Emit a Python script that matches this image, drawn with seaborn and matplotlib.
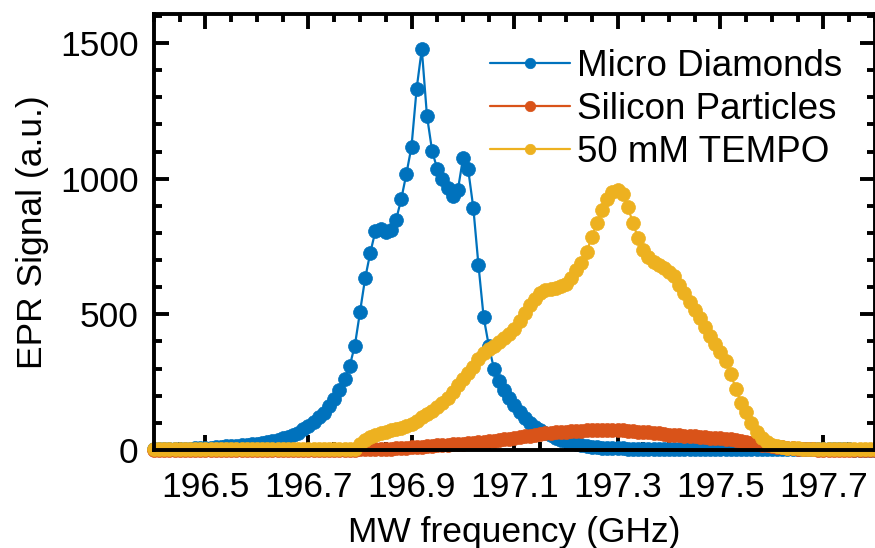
import numpy as np
import pandas as pd
import matplotlib
matplotlib.use('Agg')
import matplotlib.pyplot as plt
import seaborn as sns
from matplotlib.ticker import MultipleLocator

# MW frequency grid (GHz), 0.01 GHz steps from 196.40 to 197.80
freq = np.round(np.arange(196.40, 197.805, 0.01), 2)

micro_diamonds = [
    2, 2, 3, 3, 4, 4, 5, 5, 6, 7,
    8, 9, 10, 11, 13, 14, 16, 18, 20, 22,
    24, 27, 30, 34, 38, 43, 49, 55, 64, 76,
    89, 102, 120, 138, 162, 188, 220, 262, 310, 385,
    508, 633, 727, 808, 815, 805, 811, 848, 924, 1017,
    1118, 1332, 1478, 1232, 1103, 1035, 998, 965, 937, 958,
    1075, 1035, 893, 682, 491, 385, 300, 255, 222, 192,
    165, 140, 118, 100, 85, 73, 63, 54, 46, 38,
    32, 27, 22, 18, 15, 12, 10, 9, 8, 7,
    6, 6, 5, 5, 5, 4, 4, 4, 4, 4,
    3, 3, 3, 3, 3, 3, 3, 3, 3, 3,
    3, 3, 2, 2, 2, 2, 2, 2, 2, 2,
    2, 2, 2, 2, 2, 2, 2, 2, 2, 2,
    2, 2, 2, 2, 2, 2, 1, 1, 1, 1, 1,
]

silicon_particles = [
    0, 0, 0, 0, 0, 0, 0, 0, 0, 0,
    0, 0, 0, 0, 0, 0, 0, 0, 0, 0,
    0, 0, 0, 0, 0, 0, 0, 0, 0, 0,
    0, 0, 0, 0, 0, 0, 0, 0, 1, 1,
    2, 2, 3, 3, 4, 5, 5, 6, 7, 8,
    10, 11, 12, 14, 15, 17, 18, 20, 21, 22,
    24, 25, 27, 28, 30, 32, 34, 37, 40, 42,
    45, 48, 50, 53, 56, 58, 61, 63, 65, 67,
    68, 69, 70, 71, 72, 73, 73, 73, 73, 73,
    72, 72, 71, 70, 68, 66, 65, 63, 61, 59,
    57, 56, 54, 53, 51, 50, 48, 47, 46, 44,
    43, 41, 39, 37, 34, 30, 27, 23, 20, 17,
    14, 12, 10, 8, 6, 5, 4, 3, 2, 1,
    1, 1, 0, 0, 0, 0, 0, 0, 0, 0, 0,
]

tempo_50mM = [
    2, 2, 2, 2, 2, 2, 2, 2, 2, 2,
    2, 2, 2, 2, 2, 2, 2, 2, 2, 2,
    2, 2, 2, 2, 2, 2, 2, 2, 2, 2,
    2, 2, 2, 2, 2, 2, 2, 2, 3, 5,
    22, 38, 48, 56, 62, 67, 72, 77, 82, 87,
    96, 108, 120, 132, 145, 160, 175, 190, 212, 238,
    262, 285, 307, 335, 357, 372, 385, 398, 413, 428,
    446, 475, 505, 533, 558, 578, 588, 594, 598, 605,
    613, 635, 663, 690, 730, 784, 836, 886, 925, 950,
    958, 945, 895, 838, 780, 737, 712, 694, 683, 670,
    657, 640, 610, 578, 545, 515, 485, 452, 420, 390,
    360, 327, 280, 225, 175, 140, 100, 68, 44, 30,
    20, 15, 12, 9, 7, 6, 5, 5, 4, 4,
    3, 3, 3, 3, 2, 2, 2, 2, 2, 2, 2,
]

labels = ['Micro Diamonds', 'Silicon Particles', '50 mM TEMPO']
colors = ['#0072BD', '#D95319', '#EDB120']
x_ticks = [196.5, 196.7, 196.9, 197.1, 197.3, 197.5, 197.7]
y_ticks = [0, 500, 1000, 1500]

sns.set_style('ticks')
plt.rcParams['font.family'] = ['Liberation Sans', 'DejaVu Sans']
plt.rcParams['font.size'] = 25.5
plt.rcParams['text.color'] = 'black'
plt.rcParams['axes.labelcolor'] = 'black'

fig = plt.figure(figsize=(8.75, 5.48), dpi=100)
ax = fig.add_axes([0.176, 0.1788, 0.824, 0.7957])

for vals, lab, col in zip([micro_diamonds, silicon_particles, tempo_50mM], labels, colors):
    df = pd.DataFrame({'freq': freq, 'signal': vals})
    sns.lineplot(data=df, x='freq', y='signal', ax=ax, color=col, label=lab,
                 marker='o', markersize=10, markeredgewidth=0.5,
                 markeredgecolor=col, linewidth=1.6, clip_on=False)

ax.set_xlim(196.4, 197.8)
ax.set_ylim(0, 1607)
ax.set_xticks(x_ticks)
ax.set_xticklabels([f'{t:.1f}' for t in x_ticks])
ax.set_yticks(y_ticks)
ax.xaxis.set_minor_locator(MultipleLocator(0.05))
ax.yaxis.set_minor_locator(MultipleLocator(100))

for s in ax.spines.values():
    s.set_linewidth(2.8)
    s.set_color('black')
ax.tick_params(which='both', direction='in', top=True, right=True,
               width=2.8, colors='black', labelsize=25.5)
ax.tick_params(which='major', length=11)
ax.tick_params(which='minor', length=6)
ax.tick_params(axis='x', which='major', pad=15)
ax.tick_params(axis='y', which='major', pad=11)

ax.set_xlabel('MW frequency (GHz)', fontsize=25.5, labelpad=9, color='black')
ax.set_ylabel('EPR Signal (a.u.)', fontsize=25.5, labelpad=8, color='black')

ax.legend(loc='upper left', bbox_to_anchor=(0.466, 0.92), frameon=False,
          fontsize=26.5, borderpad=0, borderaxespad=0, handlelength=2.17,
          handletextpad=0.19, labelspacing=0.22, markerscale=0.75)

fig.savefig('out.png', dpi=100)
